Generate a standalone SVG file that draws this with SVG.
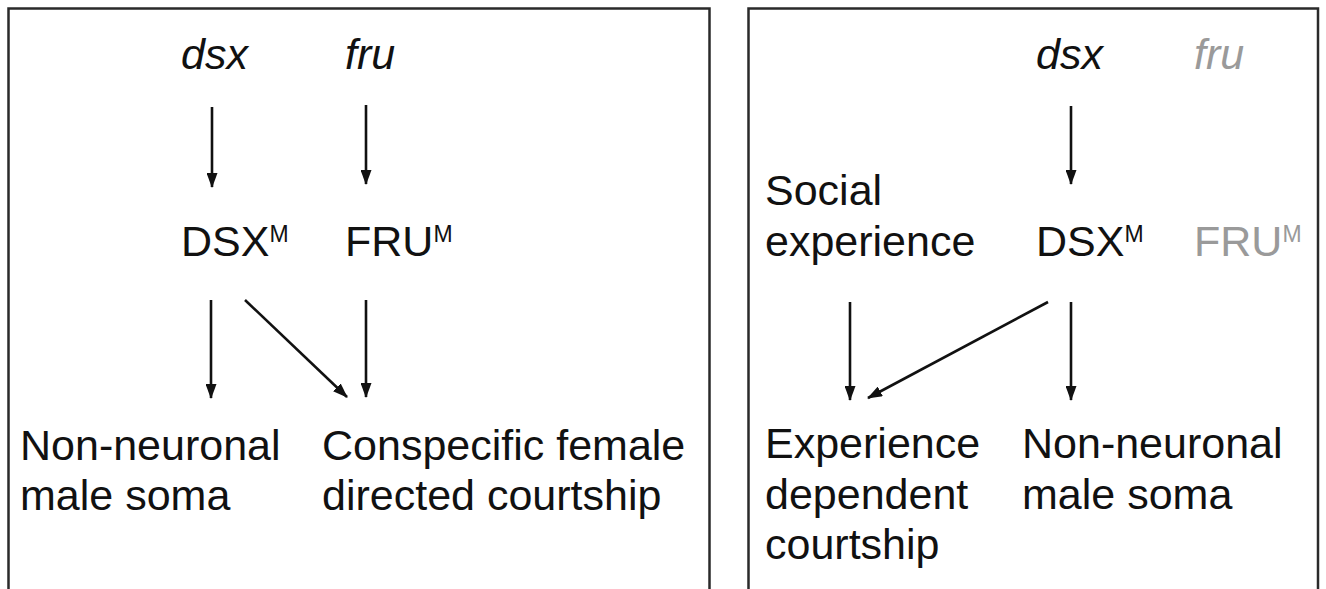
<svg xmlns="http://www.w3.org/2000/svg" width="1326" height="589" viewBox="0 0 1326 589">
  <style>
    .box { fill: #ffffff; stroke: #2a2a2a; stroke-width: 2.5; }
    .t { font-family: "Liberation Sans", Arial, sans-serif; font-size: 43px; fill: #111111; }
    .i { font-style: italic; }
    .sup { font-size: 23px; }
    .gray { fill: #9a9a9a; }
    .arr { stroke: #111111; stroke-width: 2.6; fill: none; marker-end: url(#ah); }
  </style>
  <defs>
    <marker id="ah" viewBox="0 0 15 11" refX="14" refY="5.5" markerWidth="15" markerHeight="11" markerUnits="userSpaceOnUse" orient="auto">
      <path d="M0,0 L15,5.5 L0,11 z" fill="#111111"/>
    </marker>
  </defs>
  <rect width="1326" height="589" fill="#ffffff"/>

  <g id="panel-left">
    <rect class="box" x="8.5" y="8.5" width="701" height="590"/>
  </g>
  <g id="panel-right">
    <rect class="box" x="748.5" y="8.5" width="569.5" height="590"/>
  </g>

  <g id="left-dsx"><text class="t i" x="181" y="69">dsx</text></g>
  <g id="left-fru"><text class="t i" x="345" y="69">fru</text></g>
  <g id="left-DSXM"><text class="t" x="181" y="256">DSX<tspan class="sup" dy="-14">M</tspan></text></g>
  <g id="left-FRUM"><text class="t" x="345" y="256">FRU<tspan class="sup" dy="-14">M</tspan></text></g>
  <g id="left-soma"><text class="t" x="20" y="460">Non-neuronal</text><text class="t" x="20" y="510">male soma</text></g>
  <g id="left-courtship"><text class="t" x="322" y="460">Conspecific female</text><text class="t" x="322" y="510">directed courtship</text></g>

  <g id="right-dsx"><text class="t i" x="1036" y="69">dsx</text></g>
  <g id="right-fru"><text class="t i gray" x="1194" y="69">fru</text></g>
  <g id="right-social"><text class="t" x="765" y="205">Social</text><text class="t" x="765" y="256">experience</text></g>
  <g id="right-DSXM"><text class="t" x="1036" y="256">DSX<tspan class="sup" dy="-14">M</tspan></text></g>
  <g id="right-FRUM"><text class="t gray" x="1194" y="256">FRU<tspan class="sup" dy="-14">M</tspan></text></g>
  <g id="right-courtship"><text class="t" x="765" y="458">Experience</text><text class="t" x="765" y="509">dependent</text><text class="t" x="765" y="559">courtship</text></g>
  <g id="right-soma"><text class="t" x="1022" y="458">Non-neuronal</text><text class="t" x="1022" y="509">male soma</text></g>

  <g id="connectors">
    <line class="arr" x1="212" y1="107" x2="212" y2="187"/>
    <line class="arr" x1="366" y1="105" x2="366" y2="184"/>
    <line class="arr" x1="211" y1="300" x2="211" y2="398"/>
    <line class="arr" x1="245" y1="300" x2="347" y2="397"/>
    <line class="arr" x1="366" y1="300" x2="366" y2="397"/>
    <line class="arr" x1="1071" y1="106" x2="1071" y2="184"/>
    <line class="arr" x1="850" y1="302" x2="850" y2="400"/>
    <line class="arr" x1="1048" y1="302" x2="868" y2="398"/>
    <line class="arr" x1="1071" y1="302" x2="1071" y2="400"/>
  </g>
</svg>
